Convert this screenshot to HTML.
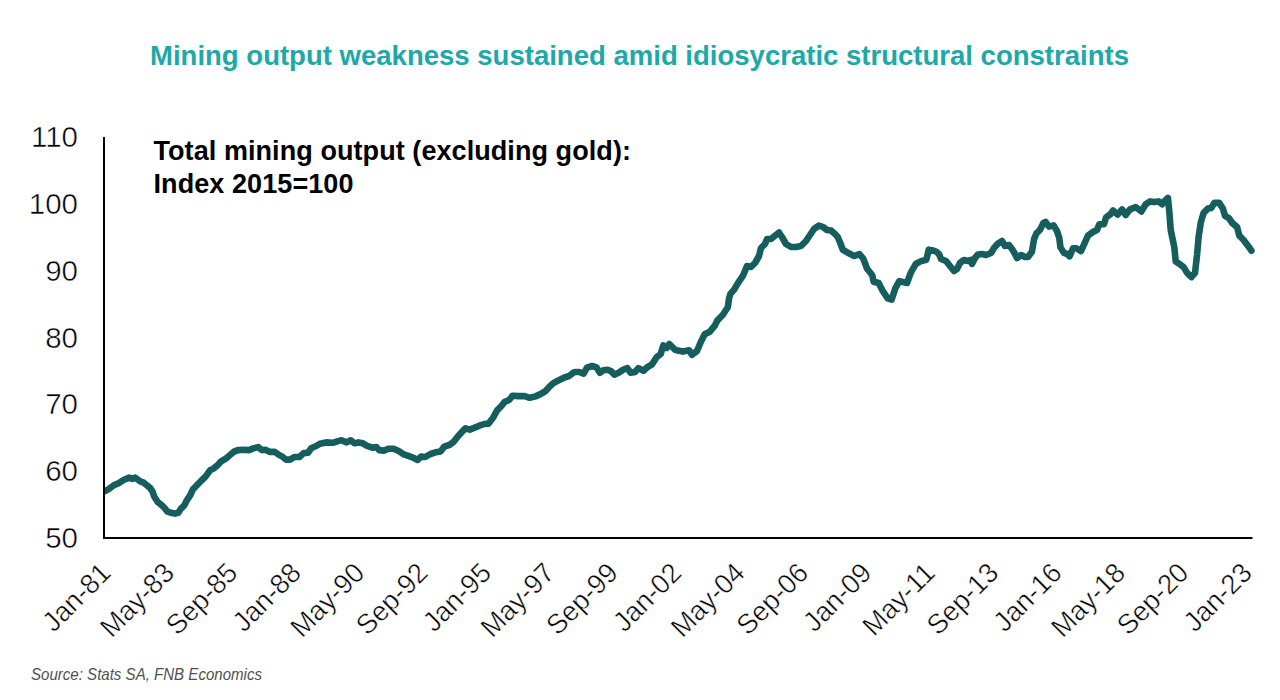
<!DOCTYPE html>
<html><head><meta charset="utf-8"><style>
html,body{margin:0;padding:0;background:#fff;}
svg{display:block;}
text{font-family:"Liberation Sans",sans-serif;}
</style></head><body>
<svg width="1280" height="700" viewBox="0 0 1280 700">
<defs><clipPath id="pc"><rect x="103" y="0" width="1177" height="700"/></clipPath></defs>
<rect width="1280" height="700" fill="#fff"/>
<text x="150" y="64.7" font-size="27" font-weight="bold" fill="#20A8A8" textLength="979" lengthAdjust="spacingAndGlyphs">Mining output weakness sustained amid idiosycratic structural constraints</text>

<text x="78" y="547.9" font-size="29.5" text-anchor="end" fill="#000" stroke="#fff" stroke-width="0.5">50</text>
<text x="78" y="481.1" font-size="29.5" text-anchor="end" fill="#000" stroke="#fff" stroke-width="0.5">60</text>
<text x="78" y="414.3" font-size="29.5" text-anchor="end" fill="#000" stroke="#fff" stroke-width="0.5">70</text>
<text x="78" y="347.5" font-size="29.5" text-anchor="end" fill="#000" stroke="#fff" stroke-width="0.5">80</text>
<text x="78" y="280.7" font-size="29.5" text-anchor="end" fill="#000" stroke="#fff" stroke-width="0.5">90</text>
<text x="78" y="213.9" font-size="29.5" text-anchor="end" fill="#000" stroke="#fff" stroke-width="0.5">100</text>
<text x="78" y="147.1" font-size="29.5" text-anchor="end" fill="#000" stroke="#fff" stroke-width="0.5">110</text>
<path d="M103.9 491.7 L108.6 489.1 L113.7 485.3 L118.9 483.1 L124.0 479.7 L129.1 477.6 L132.6 478.9 L135.1 477.6 L140.3 481.4 L143.7 482.7 L146.5 485.0 L150.0 487.9 L152.6 491.7 L154.3 496.8 L157.7 502.0 L161.1 504.6 L164.6 508.0 L167.1 511.4 L170.6 512.7 L174.9 513.6 L178.3 512.7 L180.8 508.8 L184.3 505.4 L186.8 500.3 L190.3 495.1 L192.8 489.6 L198.0 484.0 L201.4 480.6 L205.7 476.3 L210.0 470.3 L213.4 468.6 L217.7 465.1 L220.7 461.7 L225.8 458.7 L230.1 454.9 L233.6 451.9 L237.8 450.1 L243.0 449.7 L249.0 450.1 L253.3 448.4 L258.4 447.1 L261.8 450.1 L265.3 449.7 L269.5 451.9 L274.7 451.9 L279.0 454.9 L282.4 456.6 L285.8 459.6 L290.1 459.6 L294.3 457.0 L299.4 457.0 L303.7 453.1 L308.0 452.7 L311.4 448.0 L315.7 446.3 L320.0 443.7 L326.0 442.4 L332.8 442.8 L338.0 441.1 L341.4 440.3 L346.6 442.4 L350.8 440.3 L354.3 443.3 L358.6 442.4 L362.8 443.3 L367.1 445.8 L372.3 447.6 L376.5 447.1 L379.1 450.1 L384.3 450.6 L388.4 448.8 L393.6 448.8 L398.7 451.0 L403.9 454.4 L409.0 456.1 L413.3 457.8 L417.6 460.0 L421.0 456.6 L425.3 457.0 L430.4 454.0 L435.6 452.3 L440.7 451.4 L444.1 446.7 L449.3 445.0 L453.5 442.0 L457.8 436.4 L462.1 431.7 L465.5 428.3 L469.8 429.6 L474.1 427.9 L479.3 425.7 L484.3 424.0 L488.6 423.6 L492.9 418.0 L497.1 410.3 L501.4 406.0 L504.9 401.7 L509.1 400.0 L512.6 395.7 L518.6 396.1 L524.6 396.1 L529.7 397.8 L534.8 396.6 L540.0 394.4 L545.1 391.4 L549.4 386.7 L553.7 382.9 L558.8 380.3 L564.0 377.7 L569.1 376.0 L573.4 372.6 L575.0 372.0 L579.3 372.0 L583.6 373.7 L587.0 367.7 L592.1 366.0 L596.4 367.3 L599.9 372.8 L603.3 370.3 L607.6 369.8 L611.0 371.1 L614.4 374.6 L618.7 372.8 L623.0 369.8 L627.3 368.1 L630.7 372.8 L635.0 372.0 L638.4 368.1 L643.5 370.7 L647.8 366.8 L652.1 364.3 L656.4 357.4 L660.7 354.0 L663.3 345.4 L666.7 348.0 L669.3 344.1 L675.0 349.7 L676.4 350.3 L682.9 351.6 L689.3 350.3 L691.9 354.8 L697.0 351.0 L700.8 342.0 L704.7 334.3 L709.8 331.7 L715.0 325.3 L717.6 320.1 L722.7 315.0 L727.8 307.3 L729.1 298.3 L730.4 293.8 L734.3 289.3 L738.1 282.9 L743.3 275.1 L747.0 266.0 L751.0 267.0 L755.0 263.0 L759.0 256.0 L761.0 248.0 L765.0 244.0 L767.0 239.0 L771.0 239.0 L774.0 236.5 L779.0 232.5 L782.0 237.0 L786.0 244.0 L791.0 247.0 L796.0 247.0 L801.0 246.0 L806.0 241.0 L810.0 235.0 L814.0 229.0 L819.0 225.5 L823.0 227.0 L827.0 230.0 L831.0 230.5 L835.0 234.0 L837.6 236.7 L840.1 242.5 L842.7 249.6 L847.9 252.8 L854.3 256.0 L859.4 254.1 L863.3 258.6 L867.1 268.8 L872.3 275.3 L873.6 281.7 L878.7 283.0 L882.6 290.7 L887.7 298.4 L891.6 299.7 L895.4 288.1 L899.3 281.1 L907.0 283.0 L910.8 272.7 L916.0 263.7 L921.1 261.1 L926.3 259.8 L928.8 249.6 L934.0 250.8 L936.0 251.5 L939.0 254.0 L941.0 259.0 L946.0 261.0 L950.0 266.0 L954.0 271.0 L957.0 269.0 L960.0 263.0 L964.0 260.0 L968.0 261.0 L971.0 260.0 L972.0 264.0 L975.0 258.0 L978.0 254.5 L982.0 254.0 L986.0 255.0 L991.0 253.0 L994.0 248.0 L998.0 243.5 L1002.0 241.0 L1005.0 246.0 L1009.0 245.0 L1012.0 249.0 L1015.0 254.0 L1017.0 258.0 L1021.0 255.0 L1025.0 257.0 L1028.0 257.0 L1031.9 251.7 L1034.1 239.1 L1036.4 233.4 L1039.9 230.0 L1043.3 223.1 L1045.6 222.0 L1049.0 226.6 L1053.6 225.4 L1057.0 231.1 L1059.3 238.0 L1060.4 247.1 L1063.9 252.9 L1067.3 254.0 L1069.6 256.3 L1073.0 248.3 L1076.4 248.3 L1081.0 251.1 L1084.4 243.7 L1087.9 235.7 L1092.4 232.3 L1097.0 230.0 L1099.3 224.3 L1103.9 224.3 L1106.1 217.4 L1110.7 214.0 L1113.0 210.6 L1117.6 214.6 L1122.1 209.4 L1125.7 215.0 L1130.0 209.3 L1135.7 207.1 L1141.4 211.4 L1145.7 204.3 L1150.0 201.4 L1154.3 202.1 L1158.6 201.4 L1162.1 204.3 L1164.3 201.4 L1167.9 197.9 L1169.3 211.4 L1170.7 230.0 L1174.3 247.1 L1175.7 261.4 L1180.0 264.3 L1183.6 267.1 L1187.1 272.9 L1191.4 277.1 L1195.0 272.9 L1197.1 254.3 L1198.6 237.1 L1200.7 222.9 L1203.6 212.9 L1207.9 208.6 L1211.4 207.9 L1214.3 202.9 L1219.3 202.9 L1222.9 208.6 L1225.0 215.7 L1229.3 218.6 L1232.1 222.9 L1237.1 227.1 L1239.3 235.7 L1243.6 240.0 L1247.9 245.7 L1251.4 250.7" fill="none" stroke="#165E5E" stroke-width="6.6" stroke-linejoin="round" stroke-linecap="round" clip-path="url(#pc)"/>
<path d="M104.0 137 V538 H1252.5" fill="none" stroke="#000" stroke-width="2"/>
<text x="153.5" y="160" font-size="27" font-weight="bold" fill="#000" letter-spacing="0.07">Total mining output (excluding gold):</text>
<text x="153.5" y="193" font-size="27" font-weight="bold" fill="#000" letter-spacing="0.08">Index 2015=100</text>
<text transform="translate(112.5 574.6) rotate(-45) scale(0.97 1)" font-size="28" text-anchor="end" fill="#000" stroke="#fff" stroke-width="0.5">Jan-81</text>
<text transform="translate(175.9 574.6) rotate(-45) scale(0.97 1)" font-size="28" text-anchor="end" fill="#000" stroke="#fff" stroke-width="0.5">May-83</text>
<text transform="translate(239.3 574.6) rotate(-45) scale(0.97 1)" font-size="28" text-anchor="end" fill="#000" stroke="#fff" stroke-width="0.5">Sep-85</text>
<text transform="translate(302.7 574.6) rotate(-45) scale(0.97 1)" font-size="28" text-anchor="end" fill="#000" stroke="#fff" stroke-width="0.5">Jan-88</text>
<text transform="translate(366.1 574.6) rotate(-45) scale(0.97 1)" font-size="28" text-anchor="end" fill="#000" stroke="#fff" stroke-width="0.5">May-90</text>
<text transform="translate(429.5 574.6) rotate(-45) scale(0.97 1)" font-size="28" text-anchor="end" fill="#000" stroke="#fff" stroke-width="0.5">Sep-92</text>
<text transform="translate(492.9 574.6) rotate(-45) scale(0.97 1)" font-size="28" text-anchor="end" fill="#000" stroke="#fff" stroke-width="0.5">Jan-95</text>
<text transform="translate(556.3 574.6) rotate(-45) scale(0.97 1)" font-size="28" text-anchor="end" fill="#000" stroke="#fff" stroke-width="0.5">May-97</text>
<text transform="translate(619.7 574.6) rotate(-45) scale(0.97 1)" font-size="28" text-anchor="end" fill="#000" stroke="#fff" stroke-width="0.5">Sep-99</text>
<text transform="translate(683.1 574.6) rotate(-45) scale(0.97 1)" font-size="28" text-anchor="end" fill="#000" stroke="#fff" stroke-width="0.5">Jan-02</text>
<text transform="translate(746.5 574.6) rotate(-45) scale(0.97 1)" font-size="28" text-anchor="end" fill="#000" stroke="#fff" stroke-width="0.5">May-04</text>
<text transform="translate(809.9 574.6) rotate(-45) scale(0.97 1)" font-size="28" text-anchor="end" fill="#000" stroke="#fff" stroke-width="0.5">Sep-06</text>
<text transform="translate(873.3 574.6) rotate(-45) scale(0.97 1)" font-size="28" text-anchor="end" fill="#000" stroke="#fff" stroke-width="0.5">Jan-09</text>
<text transform="translate(936.7 574.6) rotate(-45) scale(0.97 1)" font-size="28" text-anchor="end" fill="#000" stroke="#fff" stroke-width="0.5">May-11</text>
<text transform="translate(1000.1 574.6) rotate(-45) scale(0.97 1)" font-size="28" text-anchor="end" fill="#000" stroke="#fff" stroke-width="0.5">Sep-13</text>
<text transform="translate(1063.5 574.6) rotate(-45) scale(0.97 1)" font-size="28" text-anchor="end" fill="#000" stroke="#fff" stroke-width="0.5">Jan-16</text>
<text transform="translate(1126.9 574.6) rotate(-45) scale(0.97 1)" font-size="28" text-anchor="end" fill="#000" stroke="#fff" stroke-width="0.5">May-18</text>
<text transform="translate(1190.3 574.6) rotate(-45) scale(0.97 1)" font-size="28" text-anchor="end" fill="#000" stroke="#fff" stroke-width="0.5">Sep-20</text>
<text transform="translate(1253.7 574.6) rotate(-45) scale(0.97 1)" font-size="28" text-anchor="end" fill="#000" stroke="#fff" stroke-width="0.5">Jan-23</text>
<text x="31" y="680" font-size="17" font-style="italic" fill="#505050" textLength="231" lengthAdjust="spacingAndGlyphs">Source: Stats SA, FNB Economics</text>
</svg></body></html>
